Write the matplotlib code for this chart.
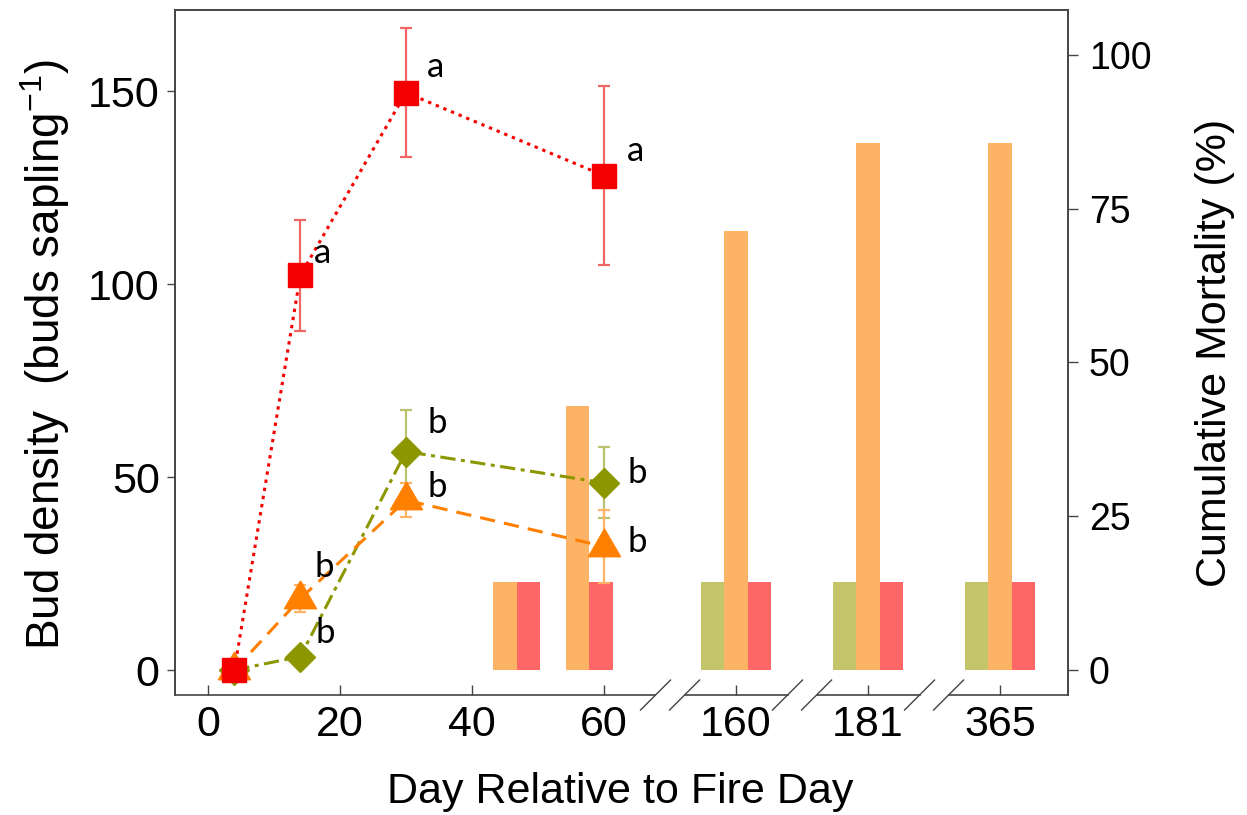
import matplotlib
matplotlib.use("Agg")
import matplotlib.pyplot as plt
import numpy as np

plt.rcParams['font.family'] = ['Liberation Sans', 'DejaVu Sans']
plt.rcParams['mathtext.fontset'] = 'custom'
plt.rcParams['mathtext.rm'] = 'Liberation Sans'
plt.rcParams['mathtext.it'] = 'Liberation Sans'
plt.rcParams['mathtext.default'] = 'regular'

# ---------------- data ----------------
days = [4, 14, 30, 60]
red_mean = [0, 102.3, 149.6, 128.1]
red_se = [0, 14.4, 16.8, 23.2]
orange_mean = [0, 18.5, 44.0, 32.0]
orange_se = [0, 3.5, 4.4, 9.4]
green_mean = [0, 3.5, 56.6, 48.5]
green_se = [0, 0, 10.8, 9.2]

mort_days = [45, 56, 160, 181, 365]
mort_green = [0, 0, 14.3, 14.3, 14.3]
mort_orange = [14.3, 42.9, 71.4, 85.7, 85.7]
mort_red = [14.3, 14.3, 14.3, 14.3, 14.3]

tick_days = [0, 20, 40, 60, 160, 181, 365]
tick_labels = ['0', '20', '40', '60', '160', '181', '365']

letters = ['a', 'a', 'a', 'b', 'b', 'b', 'b', 'b', 'b']
letter_x = [17.3, 34.5, 64.8, 17.6, 17.7, 34.8, 34.8, 65.0, 65.0]
letter_y = [105.4, 153.6, 131.9, 24.1, 7.0, 61.4, 44.8, 48.4, 30.6]

# broken-axis mapping of days onto plot positions
break_map = {160: 80, 181: 100, 365: 120}


def pos(d):
    return break_map.get(d, d)


# ---------------- styling ----------------
RED, RED_E, RED_B = '#F50000', '#F06666', '#FF6666'
ORA, ORA_E, ORA_B = '#FF8000', '#FFB366', '#FDB366'
GRN, GRN_E, GRN_B = '#8C9700', '#BAC26E', '#C4C46A'
SPINE = '#444444'

fig = plt.figure(figsize=(12.47, 8.15), dpi=100)
ax = fig.add_axes([0.1403, 0.1472, 0.7162, 0.8405])
ax2 = ax.twinx()

# ---------------- mortality bars (right axis) ----------------
bw = 3.53
mx = np.array([pos(d) for d in mort_days], dtype=float)
ax2.bar(mx - bw, mort_green, width=bw, color=GRN_B, linewidth=0)
ax2.bar(mx, mort_orange, width=bw, color=ORA_B, linewidth=0)
ax2.bar(mx + bw, mort_red, width=bw, color=RED_B, linewidth=0)
ax2.set_ylim(-4.07, 107.3)
ax2.set_yticks([0, 25, 50, 75, 100])
ax2.tick_params(axis='y', direction='out', length=7, width=1, colors=SPINE,
                labelcolor='black', labelsize=27, pad=8)
ax2.set_ylabel('Cumulative Mortality (%)', fontsize=31, rotation=90)
ax2.yaxis.label.set_va('center')
ax2.yaxis.set_label_coords(1.1646, 0.5)

# ---------------- bud density (left axis) ----------------
ax.set_zorder(ax2.get_zorder() + 1)
ax.patch.set_visible(False)

tri = [(0, 1), (-0.866, -0.5), (0.866, -0.5), (0, 1)]
x = [pos(d) for d in days]

ax.errorbar(x, green_mean, yerr=green_se, fmt='none', ecolor=GRN_E,
            elinewidth=1.6, capsize=4.5, capthick=1.6, zorder=2)
ax.plot(x, green_mean, color=GRN, lw=2.2, ls=(0, (5, 1.8, 1.3, 1.8)),
        marker='D', ms=15.2, mec=GRN, mfc=GRN, zorder=3)

ax.errorbar(x, orange_mean, yerr=orange_se, fmt='none', ecolor=ORA_E,
            elinewidth=1.6, capsize=4.5, capthick=1.6, zorder=4)
ax.plot(x, orange_mean, color=ORA, lw=2.2, ls=(0, (5, 3)),
        marker=tri, ms=26.6, mec=ORA, mfc=ORA, zorder=5)

ax.errorbar(x, red_mean, yerr=red_se, fmt='none', ecolor=RED_E,
            elinewidth=1.6, capsize=4.5, capthick=1.6, zorder=6)
ax.plot(x, red_mean, color=RED, lw=2.2, ls=(0, (1.1, 1.6)),
        marker='s', ms=16.8, mec=RED, mfc=RED, zorder=7)

for t, lx, ly in zip(letters, letter_x, letter_y):
    ax.text(lx, ly, t, family='Lato', fontsize=25, ha='center',
            va='baseline', zorder=8)

ax.set_xlim(-5, 130.3)
ax.set_ylim(-6.48, 171)
ax.set_yticks([0, 50, 100, 150])
ax.set_xticks([pos(d) for d in tick_days])
ax.set_xticklabels(tick_labels)
ax.tick_params(axis='y', direction='out', length=6, width=1, colors=SPINE,
               labelcolor='black', labelsize=31, pad=5)
ax.tick_params(axis='x', direction='in', length=7, width=1, colors=SPINE,
               labelcolor='black', labelsize=31, pad=7)

ax.set_ylabel('Bud density  (buds sapling$^{-1}$)', fontsize=33)
ax.yaxis.label.set_va('center')
ax.yaxis.set_label_coords(-0.1456, 0.497)
ax.set_xlabel('Day Relative to Fire Day', fontsize=31)
ax.xaxis.label.set_va('center')
ax.xaxis.set_label_coords(0.499, -0.1416)

for a in (ax, ax2):
    for s in a.spines.values():
        s.set_color(SPINE)
        s.set_linewidth(1.2)
    a.spines['bottom'].set_visible(False)

# broken bottom axis
trans = ax.get_xaxis_transform()
breaks = [70, 90, 110]
gap = 2.2
edges = [-5] + [v for c in breaks for v in (c - gap, c + gap)] + [130.3]
for i in range(0, len(edges), 2):
    ax.plot([edges[i], edges[i + 1]], [0, 0], color=SPINE, lw=1.2,
            transform=trans, clip_on=False, zorder=1)
dx = 15 / 6.6
dy = 15 / 685
for c in breaks:
    for x0 in (c - gap, c + gap):
        ax.plot([x0 - dx, x0 + dx], [-dy, dy], color=SPINE, lw=1.0,
                transform=trans, clip_on=False, zorder=1)

fig.savefig('out.png', dpi=100)
